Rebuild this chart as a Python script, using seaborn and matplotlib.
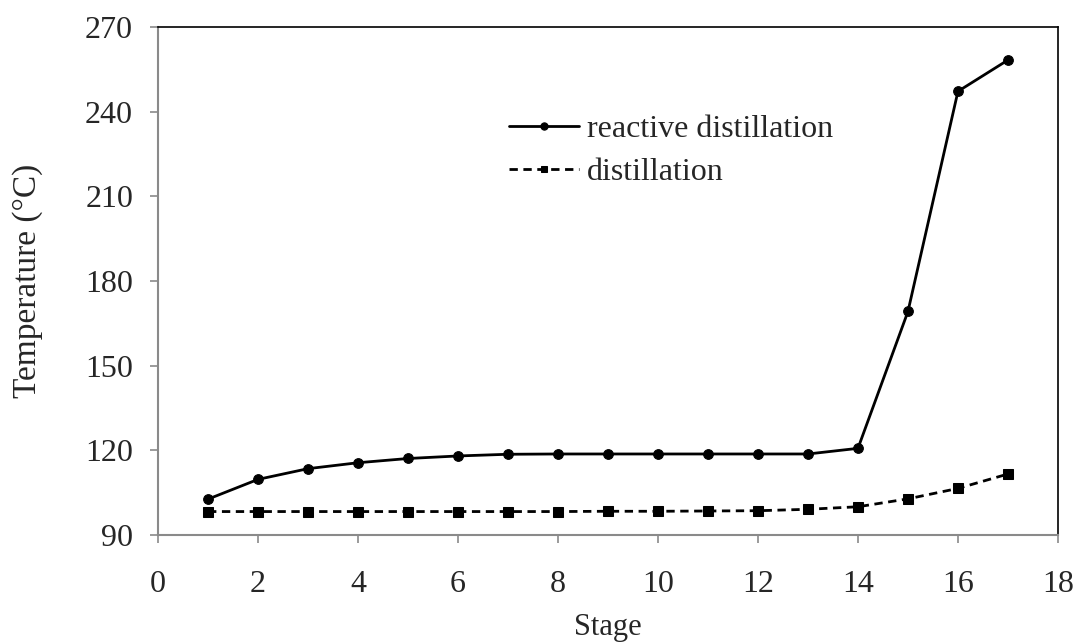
import pandas as pd
import matplotlib.pyplot as plt
import seaborn as sns

# Stage numbers and temperature profiles
stages = list(range(1, 18))
reactive_temp = [102.7, 109.7, 113.5, 115.6, 117.1, 118.0, 118.6, 118.7, 118.7,
                 118.7, 118.7, 118.7, 118.7, 120.7, 169.2, 247.2, 258.3]
distill_temp = [98.3, 98.3, 98.3, 98.3, 98.3, 98.3, 98.3, 98.3, 98.4,
                98.4, 98.5, 98.6, 99.1, 100.0, 102.8, 106.5, 111.6]

df = pd.DataFrame({'Stage': stages,
                   'reactive distillation': reactive_temp,
                   'distillation': distill_temp})

sns.set_style('white')
plt.rcParams['font.family'] = ['Liberation Serif', 'DejaVu Serif']

fig = plt.figure(figsize=(10.78, 6.43), dpi=100)
ax = fig.add_axes([0.1466, 0.168, 0.8348, 0.790])

sns.lineplot(data=df, x='Stage', y='reactive distillation', ax=ax, color='black',
             linewidth=2.0, marker='o', markersize=7, markeredgecolor='black',
             label='reactive distillation')
sns.lineplot(data=df, x='Stage', y='distillation', ax=ax, color='black',
             linewidth=2.0, linestyle=(0, (3, 2)), marker='s', markersize=6.5,
             markeredgecolor='black', label='distillation')

ax.set_xlim(0, 18)
ax.set_ylim(90, 270)
ax.set_xticks(range(0, 19, 2))
ax.set_yticks(range(90, 271, 30))
ax.tick_params(axis='both', labelsize=23, direction='out', length=6, width=1.2,
               color='#8a8a8a', bottom=True, left=True)
ax.tick_params(axis='y', pad=12)
ax.tick_params(axis='x', pad=19)

for side in ['left', 'bottom']:
    ax.spines[side].set_color('#8a8a8a')
    ax.spines[side].set_linewidth(1.5)
for side in ['top', 'right']:
    ax.spines[side].set_color('black')
    ax.spines[side].set_linewidth(1.2)

ax.set_xlabel('Stage', fontsize=22, labelpad=10)
ax.set_ylabel('Temperature (°C)', fontsize=24, labelpad=30)

ax.legend(loc='center left', bbox_to_anchor=(0.358, 0.756), frameon=False,
          fontsize=23, handlelength=2.2, handletextpad=0.25, labelspacing=0.45,
          markerscale=0.75)

fig.savefig('out.png', dpi=100)
